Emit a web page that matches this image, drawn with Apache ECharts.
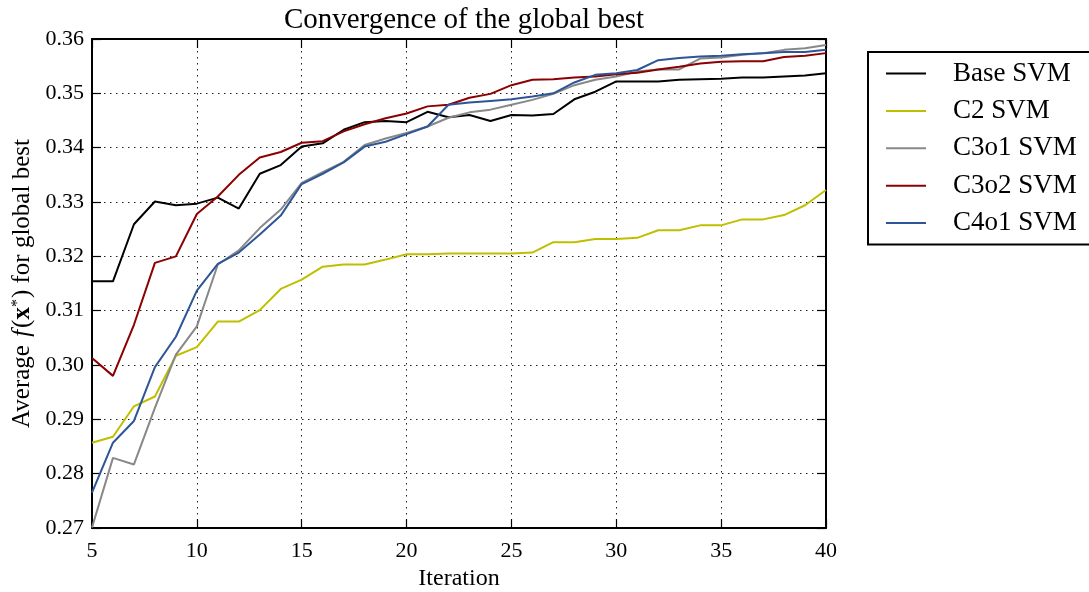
<!DOCTYPE html>
<html>
<head>
<meta charset="utf-8">
<script src="https://cdn.jsdelivr.net/npm/echarts@6/dist/echarts.min.js"></script>
<style>
  html, body { margin: 0; padding: 0; background: #fff; }
  #chart { width: 1089px; height: 592px; }
</style>
</head>
<body>
<div id="chart"></div>
<script>
// Iteration numbers on the x axis
const iterations = [5, 6, 7, 8, 9, 10, 11, 12, 13, 14, 15, 16, 17, 18, 19, 20, 21, 22,
  23, 24, 25, 26, 27, 28, 29, 30, 31, 32, 33, 34, 35, 36, 37, 38, 39, 40];

// Average f(x*) of the global best, per variant
const baseSvm = [0.3154, 0.3154, 0.3259, 0.3301, 0.3294, 0.3297, 0.3308, 0.3288, 0.3352, 0.3368,
  0.3402, 0.3408, 0.3433, 0.3447, 0.3449, 0.3447, 0.3466, 0.3456, 0.3460, 0.3449,
  0.3460, 0.3459, 0.3462, 0.3489, 0.3503, 0.3522, 0.3522, 0.3522, 0.3525, 0.3526,
  0.3527, 0.3529, 0.3529, 0.3531, 0.3533, 0.3537];
const c2Svm = [0.2857, 0.2868, 0.2924, 0.2942, 0.3017, 0.3033, 0.3080, 0.3080, 0.3101, 0.3140,
  0.3157, 0.3181, 0.3185, 0.3185, 0.3194, 0.3204, 0.3204, 0.3205, 0.3205, 0.3205,
  0.3205, 0.3207, 0.3226, 0.3226, 0.3232, 0.3232, 0.3234, 0.3248, 0.3248, 0.3257,
  0.3257, 0.3268, 0.3268, 0.3276, 0.3294, 0.3322];
const c3o1Svm = [0.2701, 0.2829, 0.2817, 0.2921, 0.3019, 0.3071, 0.3185, 0.3211, 0.3252, 0.3286,
  0.3335, 0.3355, 0.3374, 0.3405, 0.3417, 0.3427, 0.3439, 0.3455, 0.3465, 0.3470,
  0.3479, 0.3488, 0.3499, 0.3515, 0.3525, 0.3531, 0.3540, 0.3544, 0.3544, 0.3564,
  0.3566, 0.3571, 0.3574, 0.3580, 0.3583, 0.3589];
const c3o2Svm = [0.3013, 0.2980, 0.3074, 0.3188, 0.3200, 0.3278, 0.3310, 0.3350, 0.3382, 0.3392,
  0.3409, 0.3412, 0.3430, 0.3443, 0.3454, 0.3463, 0.3476, 0.3479, 0.3492, 0.3499,
  0.3515, 0.3525, 0.3526, 0.3529, 0.3531, 0.3535, 0.3538, 0.3544, 0.3549, 0.3555,
  0.3558, 0.3559, 0.3559, 0.3567, 0.3569, 0.3574];
const c4o1Svm = [0.2765, 0.2857, 0.2897, 0.2996, 0.3052, 0.3137, 0.3186, 0.3207, 0.3240, 0.3275,
  0.3333, 0.3352, 0.3373, 0.3402, 0.3411, 0.3425, 0.3439, 0.3479, 0.3483, 0.3486,
  0.3489, 0.3494, 0.3500, 0.3520, 0.3534, 0.3537, 0.3543, 0.3561, 0.3565, 0.3568,
  0.3569, 0.3572, 0.3574, 0.3576, 0.3576, 0.3580];

const seriesNames = ['Base SVM', 'C2 SVM', 'C3o1 SVM', 'C3o2 SVM', 'C4o1 SVM'];
const seriesValues = [baseSvm, c2Svm, c3o1Svm, c3o2Svm, c4o1Svm];
const seriesColors = ['#000000', '#bfbf00', '#888888', '#8b0000', '#2e5596'];

const FONT = '"Liberation Serif", "DejaVu Serif", serif';

const gridLine = { show: true, lineStyle: { color: '#222', width: 1, type: [1.5, 4.5] } };
const tickIn = { show: true, inside: true, length: 9, lineStyle: { color: '#000', width: 1.2 } };
const frameLine = { show: true, onZero: false, lineStyle: { color: '#000', width: 2 } };

const chart = echarts.init(document.getElementById('chart'), null, { renderer: 'canvas' });

chart.setOption({
  animation: false,
  backgroundColor: '#fff',
  title: {
    text: 'Convergence of the global best',
    left: 459,
    textAlign: 'center',
    top: 1,
    textStyle: { fontFamily: FONT, fontSize: 29, fontWeight: 'normal', color: '#000' }
  },
  grid: { left: 92, right: 263, top: 39, bottom: 64, outerBoundsMode: 'none', containLabel: false },
  legend: {
    orient: 'vertical',
    left: 868,
    top: 52,
    padding: [8, 60, 8, 18],
    itemGap: 10.4,
    itemWidth: 40,
    itemHeight: 2,
    icon: 'rect',
    borderColor: '#000',
    borderWidth: 2,
    data: seriesNames,
    textStyle: {
      fontFamily: FONT, fontSize: 27, color: '#000', lineHeight: 27,
      padding: [0, 0, 0, 22]
    }
  },
  xAxis: [
    {
      type: 'value', position: 'bottom', min: 5, max: 40, interval: 5,
      axisLine: frameLine, axisTick: tickIn, splitLine: gridLine,
      axisLabel: { fontFamily: FONT, fontSize: 22, color: '#000', margin: 12 },
      name: 'Iteration', nameLocation: 'middle', nameGap: 38,
      nameTextStyle: { fontFamily: FONT, fontSize: 24, color: '#000' }
    },
    {
      type: 'value', position: 'top', min: 5, max: 40, interval: 5,
      axisLine: frameLine, axisTick: tickIn, splitLine: { show: false },
      axisLabel: { show: false }
    }
  ],
  yAxis: [
    {
      type: 'value', position: 'left', min: 0.27, max: 0.36, interval: 0.01,
      axisLine: frameLine, axisTick: tickIn, splitLine: gridLine,
      axisLabel: {
        fontFamily: FONT, fontSize: 22, color: '#000', margin: 8,
        formatter: v => v.toFixed(2)
      },
      name: 'Average {i|f}({b|x}{s|*}) for global best',
      nameLocation: 'middle', nameRotate: 90, nameGap: 57,
      nameTextStyle: {
        fontFamily: FONT, fontSize: 25, color: '#000',
        rich: {
          i: { fontFamily: FONT, fontSize: 25, fontStyle: 'italic', color: '#000', padding: [0, 2, 0, 2] },
          b: { fontFamily: FONT, fontSize: 25, fontWeight: 'bold', color: '#000' },
          s: { fontFamily: FONT, fontSize: 16, color: '#000', verticalAlign: 'top', padding: [0, 1, 8, 0] }
        }
      }
    },
    {
      type: 'value', position: 'right', min: 0.27, max: 0.36, interval: 0.01,
      axisLine: frameLine, axisTick: tickIn, splitLine: { show: false },
      axisLabel: { show: false }
    }
  ],
  series: seriesNames.map((name, k) => ({
    name: name,
    type: 'line',
    xAxisIndex: 0,
    yAxisIndex: 0,
    symbol: 'none',
    clip: false,
    color: seriesColors[k],
    lineStyle: { color: seriesColors[k], width: 2 },
    data: iterations.map((it, j) => [it, seriesValues[k][j]])
  }))
});
</script>
</body>
</html>
